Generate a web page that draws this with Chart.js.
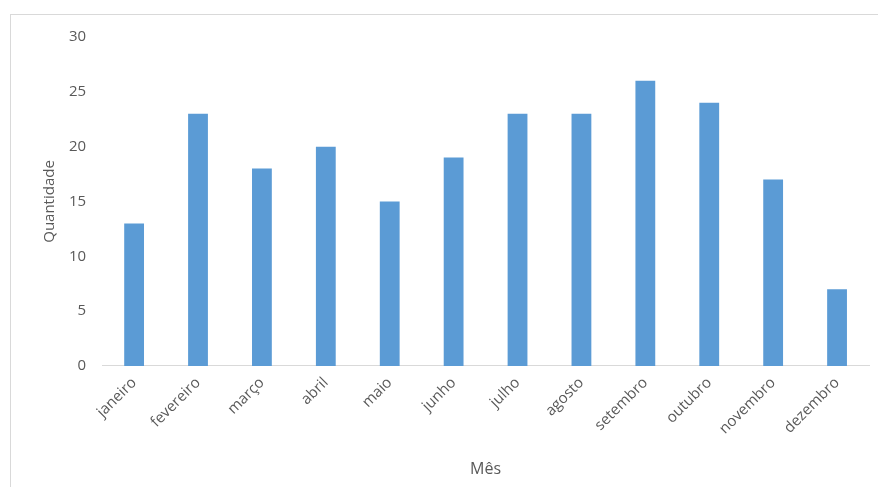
<!DOCTYPE html>
<html>
<head>
<meta charset="utf-8">
<script src="https://cdn.jsdelivr.net/npm/chart.js@4/dist/chart.umd.min.js"></script>
<style>
  html, body { margin: 0; padding: 0; background: #fff; }
  #wrap { position: relative; width: 878px; height: 487px; overflow: hidden; }
  #frame { position: absolute; left: 10px; top: 14px; width: 900px; height: 500px; border: 1px solid #d9d9d9; box-sizing: border-box; }
  #box { position: absolute; left: 11px; top: 12px; width: 867px; height: 475px; }
</style>
</head>
<body>
<div id="wrap">
  <div id="frame"></div>
  <div id="box"><canvas id="c"></canvas></div>
</div>
<script>
const meses = ['janeiro', 'fevereiro', 'março', 'abril', 'maio', 'junho', 'julho', 'agosto', 'setembro', 'outubro', 'novembro', 'dezembro'];
const quantidade = [13, 23, 18, 20, 15, 19, 23, 23, 26, 24, 17, 7];
const yTicks = [0, 5, 10, 15, 20, 25, 30];

const textColor = '#595959';
const family = '"Open Sans", "Liberation Sans", sans-serif';

new Chart(document.getElementById('c'), {
  type: 'bar',
  data: {
    labels: meses,
    datasets: [{
      data: quantidade,
      backgroundColor: '#5b9bd5',
      borderWidth: 0,
      categoryPercentage: 1,
      barPercentage: 0.31
    }]
  },
  options: {
    responsive: true,
    maintainAspectRatio: false,
    animation: false,
    layout: { padding: { left: 30, right: 9, top: 4, bottom: 4 } },
    plugins: { legend: { display: false }, tooltip: { enabled: false } },
    scales: {
      x: {
        grid: { display: false, drawTicks: false },
        border: { display: true, color: '#d9d9d9', width: 1 },
        ticks: { color: textColor, font: { family: family, size: 15 }, maxRotation: 45, minRotation: 45, padding: 8 },
        title: { display: true, text: 'Mês', color: textColor, font: { family: family, size: 16 }, padding: { top: 14 } }
      },
      y: {
        min: 0, max: 30,
        afterBuildTicks: (axis) => { axis.ticks = yTicks.map(v => ({ value: v })); },
        grid: { display: false, drawTicks: false },
        border: { display: false },
        ticks: { color: textColor, font: { family: family, size: 15 }, padding: 16 },
        title: { display: true, text: 'Quantidade', color: textColor, font: { family: family, size: 15 }, padding: { top: 0, bottom: -6 } }
      }
    }
  }
});
</script>
</body>
</html>
